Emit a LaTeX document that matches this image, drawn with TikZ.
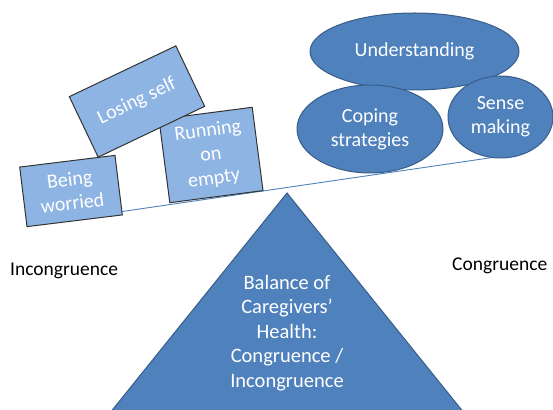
\documentclass[tikz,border=0pt]{standalone}
\usepackage{fontspec}
\setmainfont{Carlito}
\usepackage{tikz}
\usetikzlibrary{shapes.geometric}

\definecolor{boxblue}{HTML}{8EB4E3}
\definecolor{mainblue}{HTML}{4F81BD}
\definecolor{edgeblue}{HTML}{385D8A}

\begin{document}
\begin{tikzpicture}[x=1pt,y=1pt,
    worry/.style={rectangle, draw=black!80, fill=boxblue, text=white, line width=1pt,
        align=center, inner sep=0pt, font=\fontsize{20}{24}\selectfont},
    cope/.style={ellipse, draw=edgeblue, fill=mainblue, text=white, line width=1pt,
        align=center, inner sep=0pt, font=\fontsize{20}{24}\selectfont},
    side/.style={inner sep=0pt, font=\fontsize{19.5}{24}\selectfont}]
            \useasboundingbox (0,0) rectangle (553,409);
            \clip (0,0) rectangle (553,409);
            % beam
            \coordinate (beamL) at (112,196);
            \coordinate (beamR) at (496,252);
            \draw[mainblue, line width=0.9pt] (beamL) -- (beamR);
            % pivot
            \draw[edgeblue, fill=mainblue, line width=1pt] (287,216) -- (97,-20) -- (477,-20) -- cycle;
            \draw (287,76) node[text=white, align=center, font=\fontsize{20.5}{24.5}\selectfont] (pivot)
                {Balance of\\Caregivers'\\Health:\\Congruence /\\Incongruence};
            % left side
            \draw (71,218)  node[worry, minimum width=96, minimum height=60, rotate=7] (worried) {Being\\worried};
            \draw (211,254) node[worry, minimum width=94, minimum height=84, rotate=7.4] (empty) {Running\\on\\empty};
            \draw (137,307.5) node[worry, minimum width=118, minimum height=67, rotate=25.5] (losing) {Losing self};
            % right side
            \draw (414.5,357.5) node[cope, minimum width=209, minimum height=77] (understand) {Understanding};
            \draw (370,280) node[cope, minimum width=146, minimum height=88] (coping) {Coping\\strategies};
            \draw (500.5,292) node[cope, minimum width=105, minimum height=82] (sense) {Sense\\making};
            % labels
            \draw (10,138)  node[side, anchor=west] (incong) {Incongruence};
            \draw (452,143) node[side, anchor=west] (cong) {Congruence};
        \end{tikzpicture}
\end{document}
